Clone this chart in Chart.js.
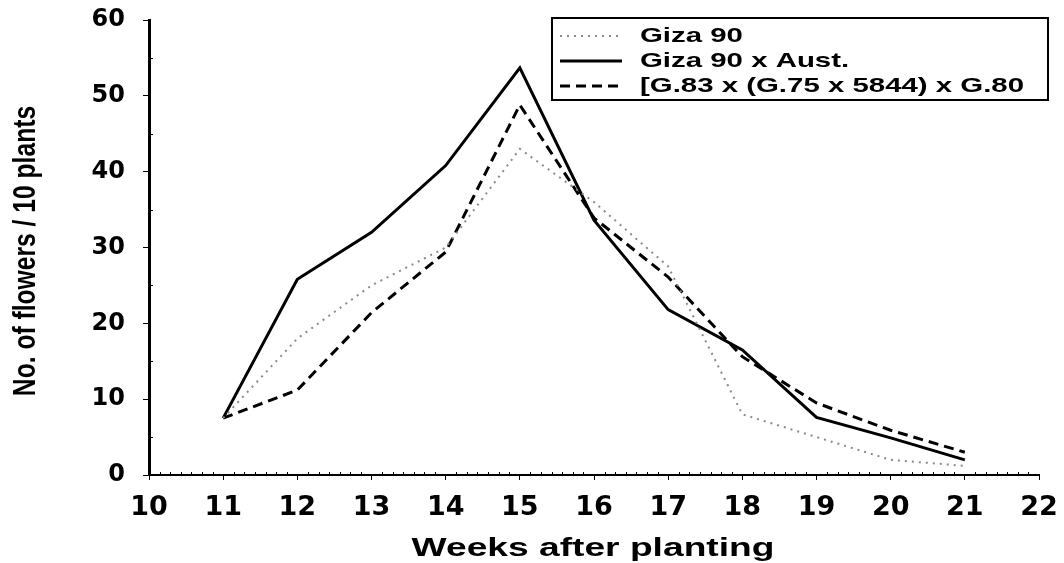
<!DOCTYPE html>
<html lang="en">
<head>
    <meta charset="UTF-8">
    <title>Flowers per 10 plants</title>
    <script src="https://cdn.jsdelivr.net/npm/chart.js"></script>
    <style>
        html, body { margin: 0; padding: 0; background: #fff; }
        #wrap { width: 1064px; height: 563px; }
    </style>
</head>
<body>
    <div id="wrap"><canvas id="flowerChart" width="1064" height="563"></canvas></div>

    <script>
        // weeks after planting
        const weeks = [11, 12, 13, 14, 15, 16, 17, 18, 19, 20, 21];
        const seriesNames = ["Giza 90", "Giza 90 x Aust.", "[G.83 x (G.75 x 5844) x G.80"];
        const giza90 = [7.5, 18, 25, 30, 43, 36, 27.5, 8, 5, 2, 1.2];
        const giza90Aust = [7.5, 25.8, 32, 40.8, 53.7, 33.6, 21.8, 16.5, 7.6, 4.9, 2.0];
        const crossG83 = [7.5, 11.2, 21.4, 29.4, 48.8, 33.9, 26.1, 15.6, 9.5, 5.9, 3.0];
        const xTitle = "Weeks after planting";
        const yTitle = "No. of flowers / 10 plants";

        const toPoints = vals => vals.map((v, i) => ({ x: weeks[i], y: v }));

        // stretched text helper (the scan is distorted, text is wide / narrow)
        function stretchText(ctx, text, x, y, sx, font, rot) {
            ctx.save();
            ctx.translate(x, y);
            if (rot) ctx.rotate(rot);
            ctx.scale(sx, 1);
            ctx.font = font;
            ctx.fillStyle = "#000";
            ctx.textAlign = "center";
            ctx.textBaseline = "middle";
            ctx.fillText(text, 0, 0);
            ctx.restore();
        }

        const decorPlugin = {
            id: "decor",
            afterDraw(chart) {
                const ctx = chart.ctx;
                const xs = chart.scales.x, ys = chart.scales.y;
                ctx.save();
                ctx.strokeStyle = "#000";
                ctx.lineWidth = 1;
                // minor ticks on x axis (days)
                for (let w = 10; w < 22; w++) {
                    for (let d = 1; d < 7; d++) {
                        const px = Math.round(xs.getPixelForValue(w + d / 7)) + 0.5;
                        ctx.beginPath();
                        ctx.moveTo(px, ys.bottom);
                        ctx.lineTo(px, ys.bottom - 3);
                        ctx.stroke();
                    }
                }
                // minor ticks on y axis
                for (let v = 5; v < 60; v += 10) {
                    const py = Math.round(ys.getPixelForValue(v)) + 0.5;
                    ctx.beginPath();
                    ctx.moveTo(xs.left, py);
                    ctx.lineTo(xs.left + 4, py);
                    ctx.stroke();
                }
                ctx.restore();

                // axis titles
                stretchText(ctx, xTitle, 593, 549, 1.43, "bold 26px 'Liberation Sans', Arial", 0);
                stretchText(ctx, yTitle, 26, 251, 0.77, "bold 32px 'Liberation Sans', Arial", -Math.PI / 2);

                // legend box
                const bx = 552, by = 18, bw = 496, bh = 82;
                ctx.save();
                ctx.strokeStyle = "#000";
                ctx.lineWidth = 2;
                ctx.strokeRect(bx, by, bw, bh);
                chart.data.datasets.forEach((ds, i) => {
                    const cy = by + 18 + i * 25;
                    ctx.save();
                    ctx.strokeStyle = ds.borderColor;
                    ctx.lineWidth = ds.borderWidth;
                    ctx.setLineDash(ds.borderDash || []);
                    ctx.beginPath();
                    ctx.moveTo(560, cy);
                    ctx.lineTo(622, cy);
                    ctx.stroke();
                    ctx.restore();
                    ctx.save();
                    ctx.translate(640, cy);
                    ctx.scale(1.4, 1);
                    ctx.font = "bold 21px 'Liberation Sans', Arial";
                    ctx.fillStyle = "#000";
                    ctx.textAlign = "left";
                    ctx.textBaseline = "middle";
                    ctx.fillText(ds.label, 0, 0);
                    ctx.restore();
                });
                ctx.restore();
            }
        };

        window.onload = function() {
            const ctx = document.getElementById("flowerChart").getContext("2d");
            new Chart(ctx, {
                type: "line",
                data: {
                    datasets: [
                        {
                            label: seriesNames[0],
                            data: toPoints(giza90),
                            borderColor: "#8a8a8a",
                            borderWidth: 2,
                            borderDash: [2, 5]
                        },
                        {
                            label: seriesNames[1],
                            data: toPoints(giza90Aust),
                            borderColor: "#000",
                            borderWidth: 3
                        },
                        {
                            label: seriesNames[2],
                            data: toPoints(crossG83),
                            borderColor: "#000",
                            borderWidth: 3,
                            borderDash: [10, 6]
                        }
                    ]
                },
                options: {
                    responsive: false,
                    animation: false,
                    devicePixelRatio: 1,
                    layout: { padding: { left: 0, right: 25, top: 20, bottom: 0 } },
                    elements: { point: { radius: 0 }, line: { tension: 0, fill: false } },
                    plugins: { legend: { display: false }, tooltip: { enabled: false } },
                    scales: {
                        x: {
                            type: "linear",
                            min: 10,
                            max: 22,
                            afterFit: s => { s.height = 88; s.paddingLeft = 0; s.paddingRight = 0; },
                            border: { display: true, color: "#000", width: 2 },
                            grid: { drawOnChartArea: false, drawTicks: true, tickLength: 5, color: "#000" },
                            ticks: {
                                stepSize: 1,
                                color: "#000",
                                padding: 12,
                                font: { family: "'DejaVu Sans'", weight: "bold", size: 27 }
                            }
                        },
                        y: {
                            min: 0,
                            max: 60,
                            afterFit: s => { s.width = 149; s.paddingTop = 0; s.paddingBottom = 0; },
                            border: { display: true, color: "#000", width: 3 },
                            grid: { drawOnChartArea: false, drawTicks: true, tickLength: 6, color: "#000" },
                            ticks: {
                                stepSize: 10,
                                color: "#000",
                                padding: 18,
                                font: { family: "'DejaVu Sans'", weight: "bold", size: 24 }
                            }
                        }
                    }
                },
                plugins: [decorPlugin]
            });
        };
    </script>
</body>
</html>
